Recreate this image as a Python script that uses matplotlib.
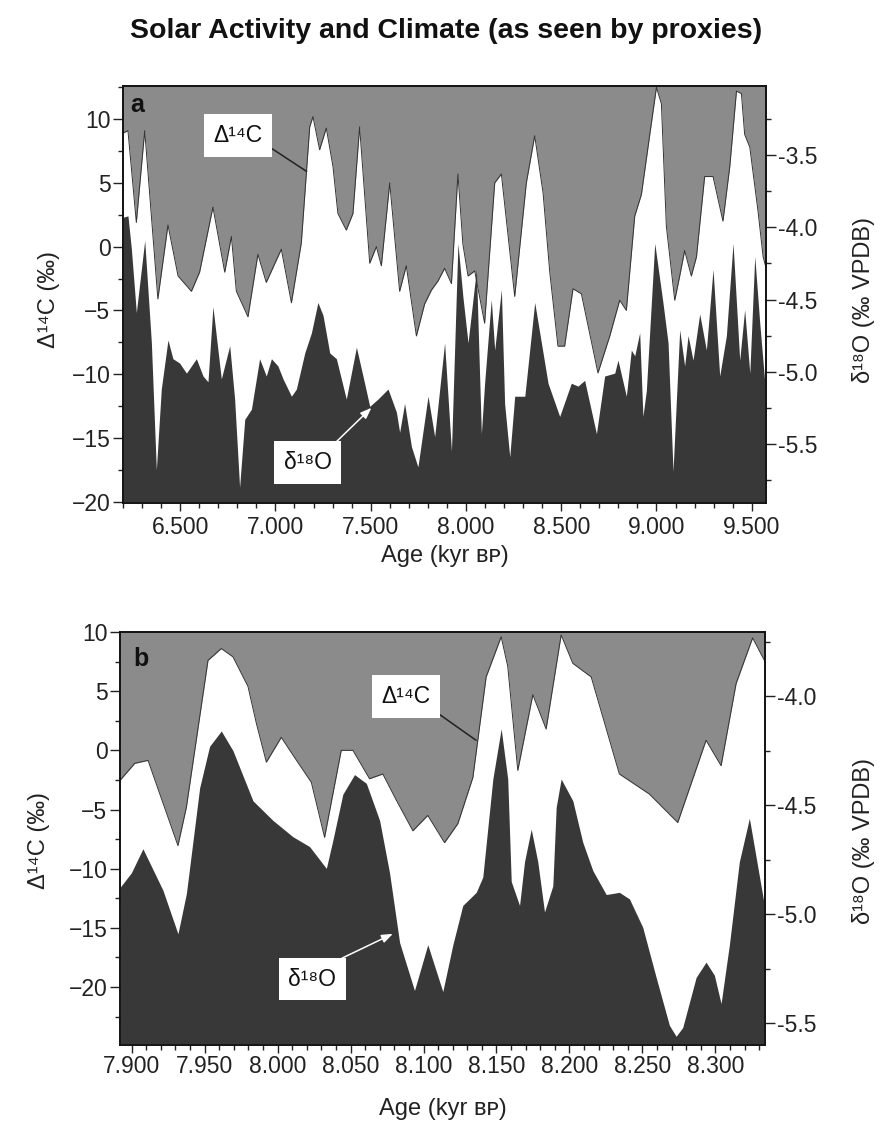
import matplotlib
matplotlib.use("Agg")
import matplotlib.pyplot as plt
from matplotlib.ticker import MultipleLocator, FormatStrFormatter

plt.rcParams['font.family'] = ['Liberation Sans', 'DejaVu Sans']

# ---- panel a: 6.2 - 9.6 kyr BP ----
a_c14_age = [6.200, 6.226, 6.270, 6.314, 6.383, 6.436, 6.489, 6.559, 6.602, 6.672,
             6.734, 6.769, 6.795, 6.856, 6.908, 6.952, 7.031, 7.084, 7.136, 7.180,
             7.197, 7.232, 7.267, 7.302, 7.328, 7.372, 7.407, 7.442, 7.495, 7.530,
             7.556, 7.600, 7.652, 7.687, 7.740, 7.783, 7.819, 7.853, 7.888, 7.924,
             7.958, 7.984, 8.011, 8.046, 8.098, 8.151, 8.186, 8.256, 8.317, 8.361,
             8.405, 8.440, 8.483, 8.518, 8.562, 8.606, 8.693, 8.755, 8.807, 8.842,
             8.886, 8.921, 8.965, 9.000, 9.026, 9.052, 9.096, 9.122, 9.148, 9.183,
             9.210, 9.253, 9.297, 9.349, 9.385, 9.420, 9.446, 9.463, 9.490, 9.533,
             9.560, 9.574]
a_c14 = [8.9, 9.1, 1.9, 9.1, -4.1, 1.7, -2.3, -3.5, -2.0, 3.1,
         -2.0, 0.8, -3.5, -5.5, -0.6, -2.8, -0.2, -4.4, 0.3, 9.4,
         10.2, 7.6, 9.3, 6.3, 2.6, 1.3, 2.6, 9.4, -1.3, 0.0,
         -1.5, 5.0, -3.5, -1.5, -7.0, -4.5, -3.4, -2.7, -1.7, -2.9,
         5.7, 0.2, -2.3, -1.9, -6.0, 5.0, 5.7, -3.9, 5.0, 8.7,
         4.2, -2.0, -7.8, -7.8, -3.3, -3.7, -9.9, -7.0, -4.2, -5.0,
         2.4, 4.1, 8.8, 12.5, 11.2, 1.6, -4.2, -2.3, -0.3, -2.3,
         -0.8, 5.5, 5.5, 2.0, 6.3, 12.2, 12.0, 8.8, 7.8, 2.8,
         -0.8, -1.6]

a_o18_age = [6.200, 6.226, 6.244, 6.270, 6.314, 6.349, 6.375, 6.401, 6.436, 6.462,
             6.497, 6.533, 6.585, 6.620, 6.646, 6.672, 6.716, 6.760, 6.786, 6.812,
             6.839, 6.874, 6.917, 6.952, 6.979, 7.013, 7.040, 7.084, 7.110, 7.154,
             7.189, 7.223, 7.250, 7.285, 7.320, 7.372, 7.425, 7.468, 7.495, 7.538,
             7.591, 7.635, 7.652, 7.678, 7.714, 7.748, 7.801, 7.836, 7.888, 7.924,
             7.958, 7.984, 8.011, 8.055, 8.081, 8.098, 8.133, 8.151, 8.186, 8.203,
             8.230, 8.256, 8.309, 8.361, 8.431, 8.492, 8.553, 8.588, 8.623, 8.685,
             8.728, 8.781, 8.798, 8.842, 8.868, 8.886, 8.912, 8.929, 8.947, 8.991,
             9.034, 9.061, 9.087, 9.122, 9.148, 9.166, 9.192, 9.227, 9.262, 9.297,
             9.332, 9.367, 9.402, 9.437, 9.463, 9.490, 9.516, 9.542, 9.569]
a_o18 = [-3.93, -3.92, -4.15, -4.59, -4.09, -4.80, -5.68, -5.12, -4.78, -4.91,
         -4.94, -5.01, -4.91, -5.03, -5.07, -4.55, -5.05, -4.82, -5.19, -5.80,
         -5.33, -5.26, -4.91, -5.03, -4.91, -4.96, -5.05, -5.17, -5.12, -4.87,
         -4.73, -4.52, -4.61, -4.87, -4.91, -5.19, -4.83, -5.08, -5.24, -5.19,
         -5.12, -5.28, -5.42, -5.22, -5.52, -5.66, -5.17, -5.45, -4.80, -5.55,
         -4.11, -4.48, -4.80, -4.29, -5.43, -5.08, -4.50, -4.85, -4.43, -5.22,
         -5.59, -5.17, -5.17, -4.52, -5.08, -5.31, -5.08, -5.10, -5.06, -5.43,
         -5.03, -5.01, -4.92, -5.17, -4.85, -4.89, -4.73, -5.31, -5.13, -4.11,
         -4.52, -4.80, -5.69, -4.71, -4.96, -4.75, -4.92, -4.60, -4.85, -4.29,
         -5.03, -4.75, -4.11, -4.92, -4.57, -5.01, -4.20, -4.66, -5.08]

# ---- panel b: 7.9 - 8.33 kyr BP ----
b_c14_age = [7.8923, 7.9021, 7.9112, 7.9317, 7.9375, 7.9523, 7.9614, 7.9694, 7.9797, 7.9854,
             7.9923, 8.0025, 8.0116, 8.0231, 8.0322, 8.0436, 8.0516, 8.0630, 8.0721, 8.0813,
             8.0927, 8.1029, 8.1144, 8.1235, 8.1338, 8.1429, 8.1532, 8.1577, 8.1646, 8.1749,
             8.1840, 8.1943, 8.2023, 8.2149, 8.2342, 8.2548, 8.2742, 8.2936, 8.3039, 8.3142,
             8.3255, 8.3336]
b_c14 = [-2.5, -1.1, -0.85, -8.05, -4.8, 7.6, 8.6, 7.9, 5.4, 2.3,
         -1.0, 1.1, -0.6, -2.7, -7.35, 0.0, 0.0, -2.4, -2.0, -4.2,
         -6.8, -5.5, -7.8, -6.2, -2.3, 6.2, 9.6, 7.1, -1.7, 4.7,
         1.8, 9.75, 7.35, 6.2, -2.0, -3.7, -6.1, 0.85, -1.3, 5.65,
         9.5, 7.6]

b_o18_age = [7.8923, 7.8998, 7.9077, 7.9214, 7.9317, 7.9375, 7.9466, 7.9534, 7.9614, 7.9694,
             7.9831, 7.9968, 8.0105, 8.0219, 8.0334, 8.0379, 8.0447, 8.0527, 8.0608, 8.0699,
             8.0767, 8.0836, 8.0938, 8.1029, 8.1132, 8.1201, 8.1269, 8.1315, 8.1361, 8.1406,
             8.1475, 8.1532, 8.1577, 8.1601, 8.1658, 8.1692, 8.1738, 8.1783, 8.1829, 8.1886,
             8.1909, 8.1943, 8.2023, 8.2091, 8.2160, 8.2252, 8.2342, 8.2411, 8.2502, 8.2594,
             8.2685, 8.2731, 8.2776, 8.2868, 8.2936, 8.2993, 8.3039, 8.3096, 8.3164, 8.3233,
             8.3336]
b_o18 = [-4.875, -4.81, -4.70, -4.89, -5.09, -4.905, -4.42, -4.23, -4.16, -4.25,
         -4.48, -4.57, -4.645, -4.69, -4.79, -4.66, -4.45, -4.36, -4.40, -4.57,
         -4.81, -5.13, -5.35, -5.14, -5.355, -5.14, -4.96, -4.93, -4.90, -4.83,
         -4.38, -4.15, -4.38, -4.85, -4.96, -4.76, -4.61, -4.76, -4.99, -4.87,
         -4.51, -4.38, -4.48, -4.67, -4.80, -4.91, -4.90, -4.93, -5.06, -5.29,
         -5.51, -5.56, -5.52, -5.29, -5.22, -5.28, -5.41, -5.14, -4.76, -4.56,
         -4.96]

GREY = '#8b8b8b'
DARK = '#383838'
TXT = '#222222'
LAB_C14 = 'Δ¹⁴C'
LAB_O18 = 'δ¹⁸O'

fig = plt.figure(figsize=(8.87, 11.37), dpi=100)
fig.text(0.503, 0.973, 'Solar Activity and Climate (as seen by proxies)',
         ha='center', va='center', fontsize=20.5, fontweight='bold', color='#111111')


def panel(rect, c14_age, c14, o18_age, o18, xlim, ylim, ylim2, xmaj, xmin,
          letter, lab_c14, lab_o18, ylab_coords, xlab_y, xpad):
    ax = fig.add_axes(rect)
    ax2 = ax.twinx()
    ax.set_xlim(*xlim)
    ax.set_ylim(*ylim)
    ax2.set_ylim(*ylim2)
    ax.fill_between(c14_age, c14, ylim[1], color=GREY, lw=0)
    ax.plot(c14_age, c14, color='#333333', lw=0.7)
    ax2.fill_between(o18_age, o18, ylim2[0], color=DARK, lw=0)

    ax.xaxis.set_major_locator(MultipleLocator(xmaj))
    ax.xaxis.set_minor_locator(MultipleLocator(xmin))
    ax.xaxis.set_major_formatter(FormatStrFormatter('%.3f'))
    ax.yaxis.set_major_locator(MultipleLocator(5))
    ax.yaxis.set_minor_locator(MultipleLocator(2.5))
    ax2.yaxis.set_major_locator(MultipleLocator(0.5))
    ax2.yaxis.set_minor_locator(MultipleLocator(0.25))
    ax2.yaxis.set_major_formatter(FormatStrFormatter('%.1f'))

    for a in (ax, ax2):
        a.tick_params(which='both', direction='out', labelsize=16.5, colors=TXT,
                      width=1.0, pad=2)
        a.tick_params(which='major', length=7)
        a.tick_params(which='minor', length=3.5)
        for s in a.spines.values():
            s.set_linewidth(1.2)
            s.set_color('#111111')
    ax.tick_params(axis='x', which='major', length=5.5, pad=xpad)
    ax.tick_params(axis='x', which='minor', length=3.5)

    ax.set_xlabel('Age (kyr ʙᴘ)', fontsize=17, color=TXT)
    ax.xaxis.set_label_coords(0.5, xlab_y)
    ax.set_ylabel('Δ¹⁴C (‰)', fontsize=17, color=TXT)
    ax.yaxis.set_label_coords(ylab_coords[0], ylab_coords[2])
    ax2.set_ylabel('δ¹⁸O (‰ VPDB)', fontsize=17, color=TXT)
    ax2.yaxis.set_label_coords(ylab_coords[1], ylab_coords[2])

    ax.text(letter[1], letter[2], letter[0], transform=ax.transAxes,
            fontsize=18, fontweight='bold', ha='center', va='center', color='#111111')

    box = dict(boxstyle='square,pad=0.42', fc='white', ec='none')
    (tx, ty), (px, py), rel = lab_c14
    ax.annotate(LAB_C14, xy=(px, py), xycoords='data', xytext=(tx, ty),
                textcoords='axes fraction', ha='center', va='center', fontsize=16.5,
                color='#111111', bbox=box,
                arrowprops=dict(arrowstyle='-', color='#222222', lw=1.1, relpos=rel,
                                shrinkA=0, shrinkB=0))
    (tx, ty), (px, py), rel = lab_o18
    ax2.annotate(LAB_O18, xy=(px, py), xycoords='data', xytext=(tx, ty),
                 textcoords='axes fraction', ha='center', va='center', fontsize=16.5,
                 color='#111111', bbox=box,
                 arrowprops=dict(arrowstyle='-|>,head_length=0.4,head_width=0.15',
                                 color='white', lw=1.1, relpos=rel,
                                 shrinkA=0, shrinkB=0))
    return ax, ax2


panel([123 / 887, 1 - 503 / 1137, 643 / 887, 417 / 1137],
      a_c14_age, a_c14, a_o18_age, a_o18,
      (6.2, 9.575), (-20.1, 12.6), (-5.91, -3.02), 0.5, 0.1,
      ('a', 0.022, 0.955),
      ((0.179, 0.881), (7.164, 5.9), (1.0, 0.2)),
      ((0.287, 0.097), (7.504, -5.25), (0.9, 1.0)),
      (-0.098, 1.134, 0.487), -0.10, 4)

panel([120 / 887, 1 - 1045 / 1137, 645 / 887, 413 / 1137],
      b_c14_age, b_c14, b_o18_age, b_o18,
      (7.892, 8.334), (-24.9, 10.0), (-5.60, -3.706), 0.05, 0.01,
      ('b', 0.033, 0.935),
      ((0.443, 0.844), (8.136, 0.85), (1.0, 0.0)),
      ((0.298, 0.159), (8.079, -5.09), (0.7, 1.0)),
      (-0.109, 1.135, 0.494), -0.128, 2)

fig.savefig('out.png', dpi=100, facecolor='white')
